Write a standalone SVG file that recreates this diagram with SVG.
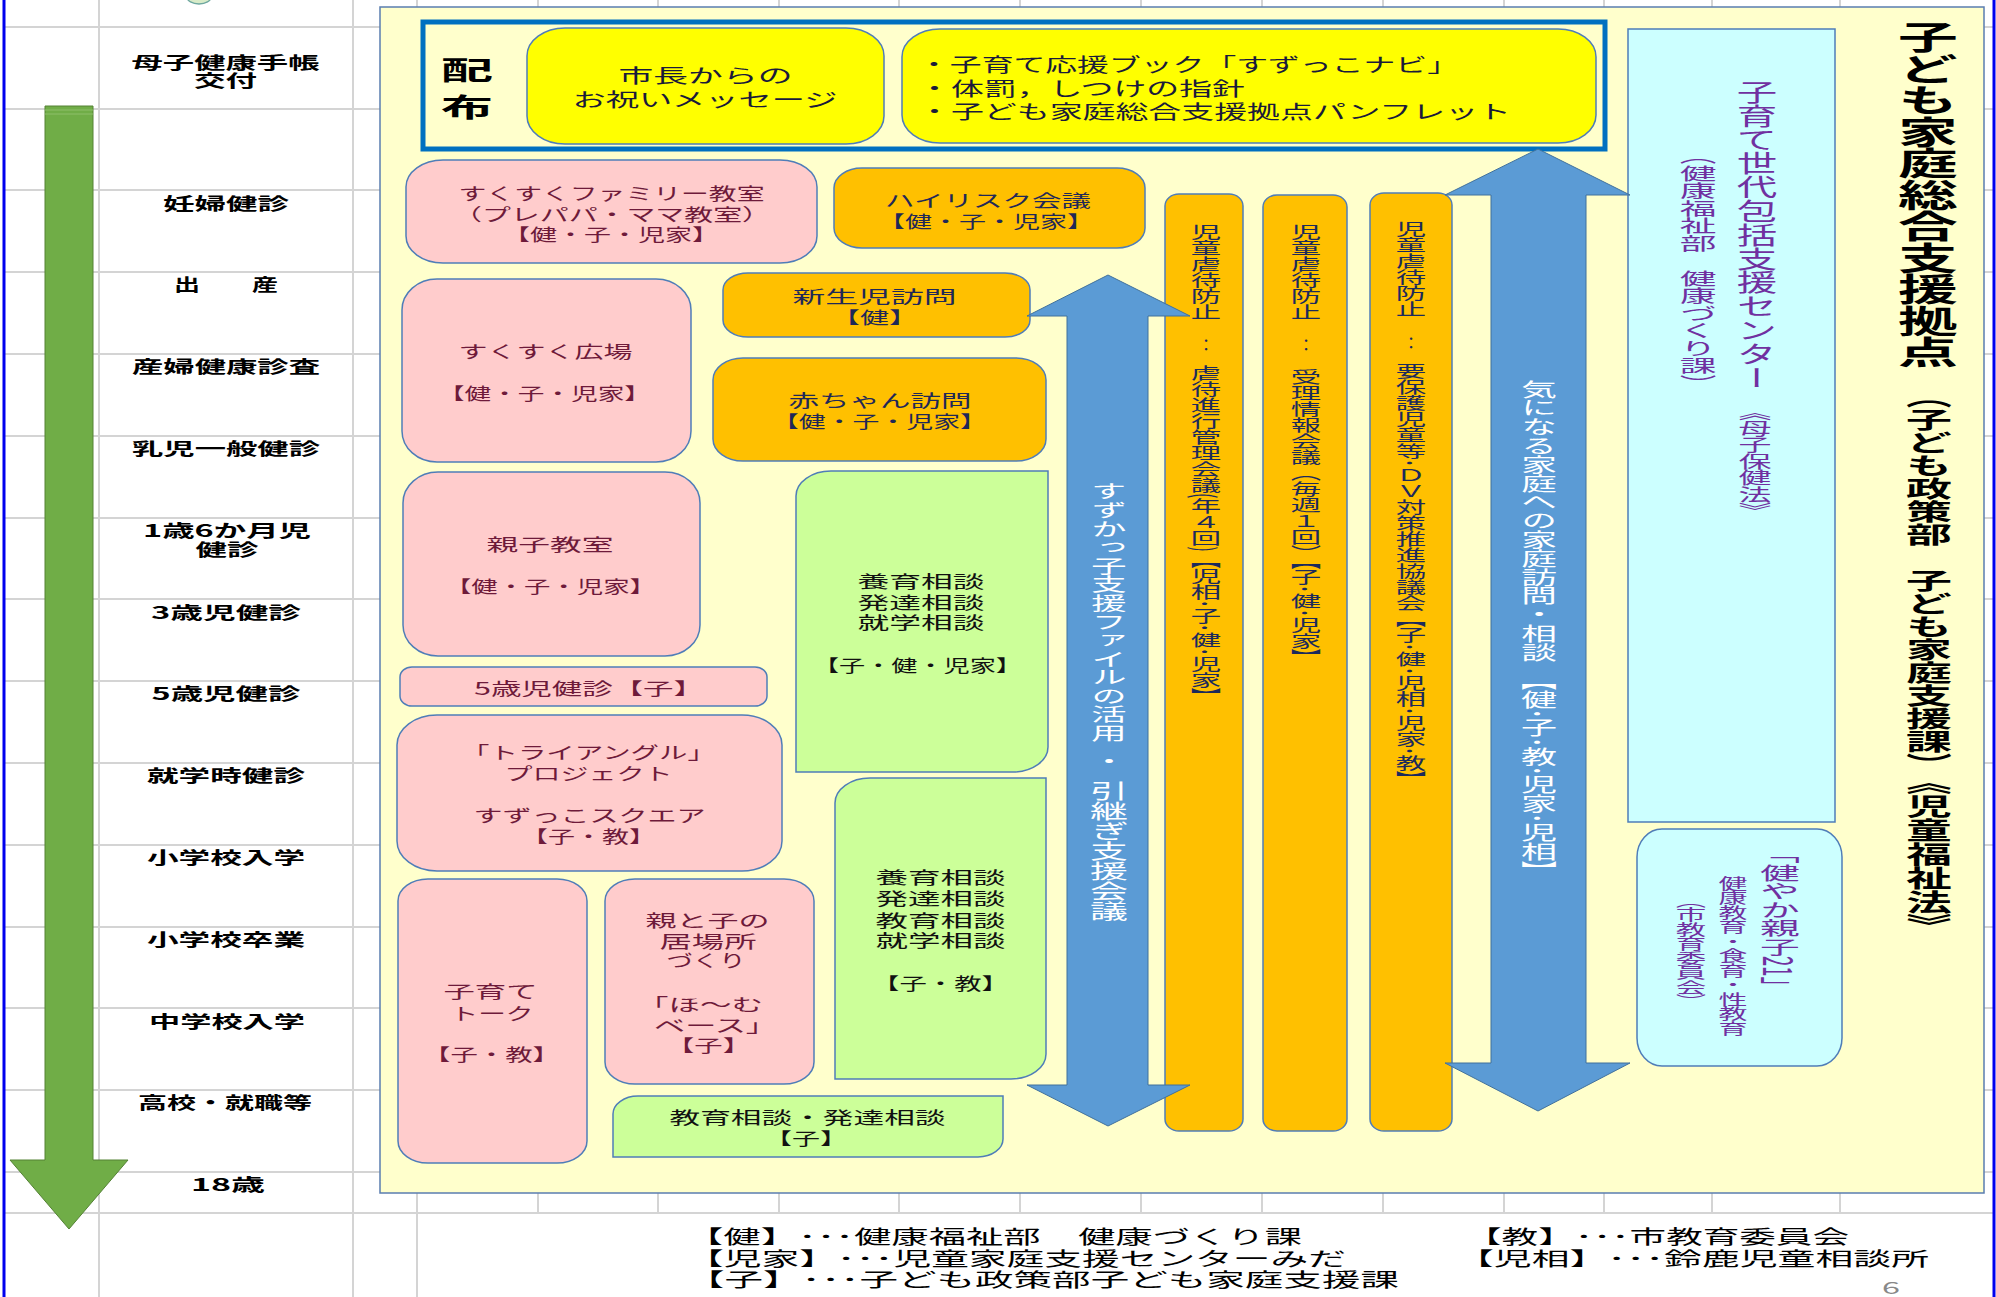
<svg xmlns="http://www.w3.org/2000/svg" width="1996" height="1297" viewBox="0 0 1996 1297">
<style>
text{font-family:"Noto Sans CJK JP","Noto Sans CJK SC",sans-serif}
.h{dominant-baseline:central;text-anchor:middle}
.s{text-anchor:start}
.v{writing-mode:vertical-rl}
.grid{stroke:#d4d4d4;stroke-width:2;fill:none}
.lab{font-size:17px;font-weight:bold;fill:#000}
.yt{font-size:19px;fill:#1a1a3a}
.pt{font-size:17px;fill:#6E1A3A}
.ot{font-size:17px;fill:#1F2858}
.gt{font-size:17px;fill:#111}
.lg{font-size:19px;fill:#000}
.pink{fill:#FFCCCC;stroke:#4F7DB8;stroke-width:1.5}
.org{fill:#FFC000;stroke:#4F7DB8;stroke-width:1.5}
.grn{fill:#CCFF99;stroke:#4F7DB8;stroke-width:1.5}
.yel{fill:#FFFF00;stroke:#4F7DB8;stroke-width:1.5}
.cyn{fill:#CCFFFF;stroke:#4F7DB8;stroke-width:1.5}
.barrow{fill:#5B9BD5;stroke:#41719C;stroke-width:1}
.col{font-size:16px;fill:#1C2A5C}
.wt{fill:#fff}
.pu{fill:#7030A0}
.tt{font-weight:bold;fill:#000}
</style>
<rect x="0" y="0" width="1996" height="1297" fill="#fff"/>
<g id="grid">
<path class="grid" d="M4,27H1993M4,109H1993M4,190H1993M4,272H1993M4,354H1993M4,436H1993M4,518H1993M4,599H1993M4,681H1993M4,763H1993M4,845H1993M4,927H1993M4,1008H1993M4,1090H1993M4,1172H1993M4,1213H1993"/>
<path class="grid" d="M99,0V1297M353,0V1297M417,0V1297M538,0V1213M658,0V1213M779,0V1213M899,0V1213M1020,0V1213M1141,0V1213M1262,0V1213M1383,0V1213M1504,0V1213M1604,0V1213M1712,0V1213M1840,0V1213"/>
<line x1="4" y1="0" x2="4" y2="1297" stroke="#0000EE" stroke-width="3"/>
<line x1="1994" y1="0" x2="1994" y2="1297" stroke="#0000EE" stroke-width="3"/>
<ellipse cx="199" cy="-3" rx="12" ry="7" fill="#D8EBC8" stroke="#6FA8A0" stroke-width="1.5"/>
</g>
<g id="timeline-labels">
<text class="h lab" x="225.5" y="61" textLength="188" lengthAdjust="spacingAndGlyphs">母子健康手帳</text>
<text class="h lab" x="225.5" y="79" textLength="63" lengthAdjust="spacingAndGlyphs">交付</text>
<text class="h lab" x="226" y="202" textLength="126" lengthAdjust="spacingAndGlyphs">妊婦健診</text>
<text class="h lab" x="226" y="283" textLength="104" lengthAdjust="spacingAndGlyphs">出　　産</text>
<text class="h lab" x="226" y="365" textLength="188" lengthAdjust="spacingAndGlyphs">産婦健康診査</text>
<text class="h lab" x="226" y="447" textLength="188" lengthAdjust="spacingAndGlyphs">乳児一般健診</text>
<text class="h lab" x="227" y="529" textLength="168" lengthAdjust="spacingAndGlyphs">1歳6か月児</text>
<text class="h lab" x="227" y="548" textLength="63" lengthAdjust="spacingAndGlyphs">健診</text>
<text class="h lab" x="226" y="611" textLength="150" lengthAdjust="spacingAndGlyphs">3歳児健診</text>
<text class="h lab" x="226" y="692" textLength="149" lengthAdjust="spacingAndGlyphs">5歳児健診</text>
<text class="h lab" x="226" y="774" textLength="158" lengthAdjust="spacingAndGlyphs">就学時健診</text>
<text class="h lab" x="226" y="856" textLength="158" lengthAdjust="spacingAndGlyphs">小学校入学</text>
<text class="h lab" x="226" y="938" textLength="158" lengthAdjust="spacingAndGlyphs">小学校卒業</text>
<text class="h lab" x="227" y="1020" textLength="156" lengthAdjust="spacingAndGlyphs">中学校入学</text>
<text class="h lab" x="225" y="1101" textLength="174" lengthAdjust="spacingAndGlyphs">高校・就職等</text>
<text class="h lab" x="228" y="1183" textLength="74" lengthAdjust="spacingAndGlyphs">18歳</text>
</g>
<g id="age-arrow">
<polygon points="45,106 93,106 93,1160 128,1160 69,1229 10,1160 45,1160" fill="#70AD47" stroke="#548235" stroke-width="1"/>
<path d="M45,110H93M45,114H93" stroke="#8DBF6A" stroke-width="1"/>
</g>
<rect id="panel" x="380" y="7" width="1604" height="1186" fill="#FFFFCC" stroke="#5A7DB0" stroke-width="1.5"/>
<g id="distribution">
<rect x="423" y="22" width="1182" height="127" fill="none" stroke="#0070C0" stroke-width="5"/>
<text class="h tt" x="467" y="68" style="font-size:26px" textLength="52" lengthAdjust="spacingAndGlyphs">配</text>
<text class="h tt" x="467" y="105" style="font-size:26px" textLength="52" lengthAdjust="spacingAndGlyphs">布</text>
</g>
<g id="mayor-message">
<rect class="yel" x="527" y="28" width="357" height="116" rx="38" ry="28"/>
<text class="h yt" x="705.5" y="74" textLength="174" lengthAdjust="spacingAndGlyphs">市長からの</text>
<text class="h yt" x="705" y="98" textLength="265" lengthAdjust="spacingAndGlyphs">お祝いメッセージ</text>
</g>
<g id="booklets">
<rect class="yel" x="902" y="29" width="694" height="114" rx="38" ry="28"/>
<text class="h s yt" x="918" y="63" textLength="541" lengthAdjust="spacingAndGlyphs">・子育て応援ブック「すずっこナビ」</text>
<text class="h s yt" x="918" y="87" textLength="327" lengthAdjust="spacingAndGlyphs">・体罰，しつけの指針</text>
<text class="h s yt" x="918" y="110" textLength="593" lengthAdjust="spacingAndGlyphs">・子ども家庭総合支援拠点パンフレット</text>
</g>
<g id="sukusuku-family">
<rect class="pink" x="406" y="160" width="411" height="103" rx="37" ry="27"/>
<text class="h pt" x="611.5" y="192" textLength="306" lengthAdjust="spacingAndGlyphs">すくすくファミリー教室</text>
<text class="h pt" x="612" y="213" textLength="318" lengthAdjust="spacingAndGlyphs">（プレパパ・ママ教室）</text>
<text class="h pt" x="611" y="233" textLength="216" lengthAdjust="spacingAndGlyphs">【健・子・児家】</text>
</g>
<g id="highrisk">
<rect class="org" x="834" y="168" width="311" height="80" rx="28" ry="20"/>
<text class="h ot" x="988" y="199" textLength="206" lengthAdjust="spacingAndGlyphs">ハイリスク会議</text>
<text class="h ot" x="986" y="220" textLength="216" lengthAdjust="spacingAndGlyphs">【健・子・児家】</text>
</g>
<g id="sukusuku-hiroba">
<rect class="pink" x="402" y="279" width="289" height="183" rx="35" ry="31"/>
<text class="h pt" x="545.5" y="350" textLength="174" lengthAdjust="spacingAndGlyphs">すくすく広場</text>
<text class="h pt" x="544.5" y="392" textLength="213" lengthAdjust="spacingAndGlyphs">【健・子・児家】</text>
</g>
<g id="newborn-visit">
<rect class="org" x="723" y="273" width="307" height="64" rx="25" ry="17"/>
<text class="h ot" x="874.5" y="295" textLength="164" lengthAdjust="spacingAndGlyphs">新生児訪問</text>
<text class="h ot" x="874.5" y="316" textLength="87" lengthAdjust="spacingAndGlyphs">【健】</text>
</g>
<g id="baby-visit">
<rect class="org" x="713" y="358" width="333" height="103" rx="30" ry="22"/>
<text class="h ot" x="880" y="399" textLength="183" lengthAdjust="spacingAndGlyphs">赤ちゃん訪問</text>
<text class="h ot" x="879.5" y="420" textLength="215" lengthAdjust="spacingAndGlyphs">【健・子・児家】</text>
</g>
<g id="oyako-kyoshitsu">
<rect class="pink" x="403" y="472" width="297" height="184" rx="35" ry="31"/>
<text class="h pt" x="550" y="543" textLength="127" lengthAdjust="spacingAndGlyphs">親子教室</text>
<text class="h pt" x="550.5" y="585" textLength="211" lengthAdjust="spacingAndGlyphs">【健・子・児家】</text>
</g>
<g id="consult-1">
<path class="grn" d="M831,471H1048V747A35,25 0 0 1 1013,772H796V496A35,25 0 0 1 831,471Z"/>
<text class="h gt" x="921" y="580" textLength="127" lengthAdjust="spacingAndGlyphs">養育相談</text>
<text class="h gt" x="921" y="601" textLength="127" lengthAdjust="spacingAndGlyphs">発達相談</text>
<text class="h gt" x="921" y="621" textLength="127" lengthAdjust="spacingAndGlyphs">就学相談</text>
<text class="h gt" x="917.5" y="664" textLength="209" lengthAdjust="spacingAndGlyphs">【子・健・児家】</text>
</g>
<g id="five-year-check">
<rect class="pink" x="400" y="667" width="367" height="39" rx="12" ry="10"/>
<text class="h s pt" x="474" y="687" textLength="230" lengthAdjust="spacingAndGlyphs">5歳児健診【子】</text>
</g>
<g id="triangle-project">
<rect class="pink" x="397" y="715" width="385" height="156" rx="40" ry="30"/>
<text class="h pt" x="588.5" y="751" textLength="255" lengthAdjust="spacingAndGlyphs">「トライアングル」</text>
<text class="h pt" x="588.5" y="772" textLength="168" lengthAdjust="spacingAndGlyphs">プロジェクト</text>
<text class="h pt" x="589.5" y="814" textLength="232" lengthAdjust="spacingAndGlyphs">すずっこスクエア</text>
<text class="h pt" x="588.5" y="835" textLength="135" lengthAdjust="spacingAndGlyphs">【子・教】</text>
</g>
<g id="kosodate-talk">
<rect class="pink" x="398" y="879" width="189" height="284" rx="30" ry="22"/>
<text class="h pt" x="490.5" y="990" textLength="94" lengthAdjust="spacingAndGlyphs">子育て</text>
<text class="h pt" x="492" y="1012" textLength="83" lengthAdjust="spacingAndGlyphs">トーク</text>
<text class="h pt" x="491.5" y="1053" textLength="137" lengthAdjust="spacingAndGlyphs">【子・教】</text>
</g>
<g id="ibasho">
<rect class="pink" x="605" y="879" width="209" height="205" rx="30" ry="22"/>
<text class="h pt" x="707.5" y="919" textLength="124" lengthAdjust="spacingAndGlyphs">親と子の</text>
<text class="h pt" x="708" y="940" textLength="97" lengthAdjust="spacingAndGlyphs">居場所</text>
<text class="h pt" x="706" y="959" textLength="79" lengthAdjust="spacingAndGlyphs">づくり</text>
<text class="h pt" x="700" y="1003" textLength="126" lengthAdjust="spacingAndGlyphs">「ほ～む</text>
<text class="h pt" x="715.5" y="1024" textLength="123" lengthAdjust="spacingAndGlyphs">ベース」</text>
<text class="h pt" x="708.5" y="1044" textLength="85" lengthAdjust="spacingAndGlyphs">【子】</text>
</g>
<g id="consult-2">
<path class="grn" d="M870,778H1046V1054A35,25 0 0 1 1011,1079H835V803A35,25 0 0 1 870,778Z"/>
<text class="h gt" x="940.5" y="876" textLength="130" lengthAdjust="spacingAndGlyphs">養育相談</text>
<text class="h gt" x="940.5" y="897" textLength="130" lengthAdjust="spacingAndGlyphs">発達相談</text>
<text class="h gt" x="940.5" y="919" textLength="130" lengthAdjust="spacingAndGlyphs">教育相談</text>
<text class="h gt" x="940.5" y="939" textLength="130" lengthAdjust="spacingAndGlyphs">就学相談</text>
<text class="h gt" x="940.5" y="982" textLength="137" lengthAdjust="spacingAndGlyphs">【子・教】</text>
</g>
<g id="consult-3">
<path class="grn" d="M638,1096H1003V1139A25,18 0 0 1 978,1157H613V1114A25,18 0 0 1 638,1096Z"/>
<text class="h gt" x="807.5" y="1116" textLength="276" lengthAdjust="spacingAndGlyphs">教育相談・発達相談</text>
<text class="h gt" x="806" y="1137" textLength="84" lengthAdjust="spacingAndGlyphs">【子】</text>
</g>
<g id="abuse-1">
<rect class="org" x="1165" y="194" width="78" height="937" rx="14" ry="12"/>
<g transform="translate(1206,0) scale(1.9,1)"><text class="v col" x="0" y="224">児童虐待防止</text><text class="v col" x="0" y="365">虐待進行管理会議(年４回)【児相･子･健･児家】</text></g>
<text class="h col" x="1206" y="344">：</text>
</g>
<g id="abuse-2">
<rect class="org" x="1263" y="195" width="84" height="936" rx="14" ry="12"/>
<g transform="translate(1306,0) scale(1.9,1)"><text class="v col" x="0" y="224">児童虐待防止</text><text class="v col" x="0" y="369">受理情報会議（毎週１回）【子･健･児家】</text></g>
<text class="h col" x="1306" y="344">：</text>
</g>
<g id="abuse-3">
<rect class="org" x="1370" y="193" width="82" height="938" rx="14" ry="12"/>
<g transform="translate(1411,0) scale(1.9,1)"><text class="v col" x="0" y="221">児童虐待防止</text><text class="v col" x="0" y="363">要保護児童等･ＤＶ対策推進協議会【子･健･児相･児家･教】</text></g>
<text class="h col" x="1411" y="342">：</text>
</g>
<g id="support-center">
<rect class="cyn" x="1628" y="29" width="207" height="793"/>
<g transform="translate(1757,0) scale(1.7,1)"><text class="v pu" x="0" y="80" style="font-size:23.8px">子育て世代包括支援センター</text></g>
<g transform="translate(1755,0) scale(2,1)"><text class="v pu" x="0" y="404" style="font-size:16.5px">《母子保健法》</text></g>
<g transform="translate(1698,0) scale(2.1,1)"><text class="v pu" x="0" y="147" style="font-size:17.5px">（健康福祉部　健康づくり課）</text></g>
</g>
<g id="sukoyaka">
<rect class="cyn" x="1637" y="829" width="205" height="237" rx="25" ry="28"/>
<g transform="translate(1780,0) scale(2.15,1)"><text class="v pu" x="0" y="845" style="font-size:18.5px">「健やか親子21」</text></g>
<g transform="translate(1733,0) scale(2,1)"><text class="v pu" x="0" y="876" style="font-size:14.5px">健康教育・食育・性教育</text></g>
<g transform="translate(1691,0) scale(2.1,1)"><text class="v pu" x="0" y="893" style="font-size:14.5px">（市教育委員会）</text></g>
</g>
<g id="connectors">
<polygon class="barrow" points="1108,275 1190,316 1148,316 1148,1085 1190,1085 1108,1126 1027,1085 1067,1085 1067,316 1027,316"/>
<polygon class="barrow" points="1538,149 1630,195 1586,195 1586,1063 1630,1063 1538,1111 1445,1063 1491,1063 1491,195 1445,195"/>
</g>
<g id="connector-labels">
<g transform="translate(1109,0) scale(1.9,1)"><text class="v wt" x="0" y="482" style="font-size:18.6px">すずかっ子支援ファイルの活用</text><text class="v wt" x="0" y="752" style="font-size:19px">・</text><text class="v wt" x="0" y="781" style="font-size:20px">引継ぎ支援会議</text></g>
<g transform="translate(1539,0) scale(1.9,1)"><text class="v wt" x="0" y="380" style="font-size:18.8px">気になる家庭への家庭訪問・相談</text><text class="v wt" x="0" y="671" style="font-size:19px">【健･子･教･児家･児相】</text></g>
</g>
<g id="title">
<g transform="translate(1928,0) scale(1.9,1)"><text class="v tt" x="0" y="21.5" style="font-size:31.5px">子ども家庭総合支援拠点</text></g>
<g transform="translate(1929,0) scale(2,1)"><text class="v tt" x="0" y="385" style="font-size:23px">（子ども政策部　子ども家庭支援課）</text></g>
<g transform="translate(1929,0) scale(1.9,1)"><text class="v tt" x="0" y="770" style="font-size:24px">《児童福祉法》</text></g>
</g>
<g id="legend">
<text class="h s lg" x="686" y="1235" textLength="616" lengthAdjust="spacingAndGlyphs">【健】･･･健康福祉部　健康づくり課</text>
<text class="h s lg" x="1465" y="1235" textLength="384" lengthAdjust="spacingAndGlyphs">【教】･･･市教育委員会</text>
<text class="h s lg" x="686" y="1257" textLength="660" lengthAdjust="spacingAndGlyphs">【児家】･･･児童家庭支援センターみだ</text>
<text class="h s lg" x="1456" y="1257" textLength="473" lengthAdjust="spacingAndGlyphs">【児相】･･･鈴鹿児童相談所</text>
<text class="h s lg" x="686" y="1278" textLength="713" lengthAdjust="spacingAndGlyphs">【子】･･･子ども政策部子ども家庭支援課</text>
<text class="h" x="1891" y="1286" style="font-size:17px;fill:#888" textLength="18" lengthAdjust="spacingAndGlyphs">6</text>
</g>
</svg>
